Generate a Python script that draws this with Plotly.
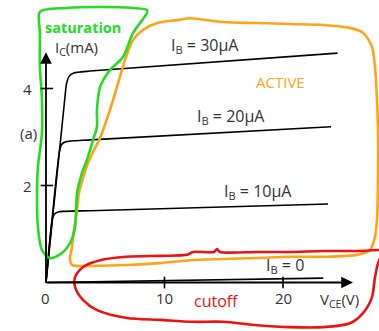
import plotly.graph_objects as go

# Collector characteristics, I_C (mA) against V_CE (V), one curve per base current
vce_30 = [0, 1.6, 1.72, 1.95, 2.35, 3.7, 24.6]
ic_30 = [0, 3.82, 4.08, 4.25, 4.32, 4.36, 4.73]
vce_20 = [0, 1.12, 1.3, 1.65, 3.7, 24.05]
ic_20 = [0, 2.68, 2.84, 2.9, 2.94, 3.21]
vce_10 = [0, 0.55, 0.75, 1.1, 3.7, 23.8]
ic_10 = [0, 1.32, 1.42, 1.46, 1.48, 1.62]
vce_0 = [0, 23.4]
ic_0 = [0, 0.09]

# Freehand region outlines (V, mA)
sat_v = [-0.51, 1.77, 4.56, 7.34, 8.52, 8.52, 7.34, 6.50, 5.40, 4.56, 4.30, 4.30, 3.97, 3.46,
         3.04, 2.62, 2.45, 2.03, 1.35, 0.34, -0.34, -0.68, -0.76, -0.68, -0.34, -0.34, -0.51,
         -0.51, -0.51]
sat_i = [5.58, 5.66, 5.68, 5.66, 5.62, 5.56, 5.14, 4.65, 4.38, 4.03, 3.56, 3.21, 2.94, 2.53,
         2.26, 1.84, 1.14, 0.81, 0.61, 0.50, 0.67, 1.14, 1.70, 2.38, 3.08, 3.77, 4.44,
         5.14, 5.58]
act_v = [2.03, 2.19, 2.36, 2.62, 2.78, 3.12, 3.54, 4.05, 4.56, 5.40, 6.08, 6.67, 7.34, 8.19,
         9.37, 11.05, 12.15, 14.94, 17.81, 20.59, 23.38, 25.65, 26.75, 27.51, 27.76, 27.93,
         28.02, 28.02, 27.93, 27.76, 27.34, 26.24, 23.38, 20.59, 17.81, 14.94, 12.15, 9.62,
         6.84, 3.97, 2.87, 2.19, 2.03]
act_i = [0.505, 0.73, 1.08, 1.49, 1.84, 2.15, 2.46, 2.73, 2.98, 3.56, 4.11, 4.59, 5.00, 5.21,
         5.35, 5.41, 5.45, 5.37, 5.35, 5.33, 5.31, 5.25, 5.15, 4.86, 4.44, 3.76,
         3.08, 2.32, 1.29, 0.94, 0.67, 0.57, 0.53, 0.53, 0.505, 0.485, 0.46, 0.40,
         0.36, 0.34, 0.34, 0.36, 0.505]
cut_v = [28.10, 26.24, 23.38, 20.59, 17.81, 14.68, 14.43, 14.18, 12.41, 11.90, 9.62, 6.84,
         4.56, 3.12, 2.45, 2.45, 3.12, 4.30, 6.84, 9.62, 12.41, 14.94, 17.81, 20.59, 23.38,
         25.65, 26.75, 27.51, 27.76, 28.02, 28.19]
cut_i = [0.67, 0.65, 0.65, 0.63, 0.63, 0.63, 0.69, 0.63, 0.63, 0.57, 0.55, 0.53,
         0.46, 0.32, 0.11, -0.09, -0.36, -0.57, -0.73, -0.77, -0.81, -0.81, -0.88, -0.92, -0.92,
         -0.84, -0.63, -0.30, 0.11, 0.40, 0.505]

x_ticks = [10, 20]
y_ticks = [2, 4]
x_tip = 25.9
y_tip = 4.75

INK = "#333333"
FONT = "Open Sans"
GREEN = "#22dd22"
ORANGE = "#ffa31a"
RED = "#ee1111"

fig = go.Figure()

for v, i in [(vce_30, ic_30), (vce_20, ic_20), (vce_10, ic_10), (vce_0, ic_0)]:
    fig.add_trace(go.Scatter(x=v, y=i, mode="lines", line=dict(color="black", width=1.6, shape="spline", smoothing=0.6),
                             hoverinfo="skip", showlegend=False))

for v, i, c in [(act_v, act_i, ORANGE), (cut_v, cut_i, RED), (sat_v, sat_i, GREEN)]:
    fig.add_trace(go.Scatter(x=v, y=i, mode="lines", line=dict(color=c, width=2.6, shape="spline", smoothing=0.8),
                             hoverinfo="skip", showlegend=False))

# Axes drawn as arrows from the origin
ann = []
ann.append(dict(x=x_tip, y=0, ax=0, ay=0, xref="x", yref="y", axref="x", ayref="y", text="",
                showarrow=True, arrowhead=2, arrowsize=1.3, arrowwidth=1.8, arrowcolor="black"))
ann.append(dict(x=0, y=y_tip, ax=0, ay=0, xref="x", yref="y", axref="x", ayref="y", text="",
                showarrow=True, arrowhead=2, arrowsize=1.3, arrowwidth=1.8, arrowcolor="black"))

shapes = []
for t in x_ticks:
    shapes.append(dict(type="line", xref="x", yref="y", x0=t, x1=t, y0=-0.12, y1=0.12,
                       line=dict(color="black", width=1.6)))
    ann.append(dict(x=t, y=-0.31, text=str(t), showarrow=False, font=dict(family=FONT, size=15, color=INK)))
for t in y_ticks:
    shapes.append(dict(type="line", xref="x", yref="y", x0=-0.45, x1=0.6, y0=t, y1=t,
                       line=dict(color="black", width=1.6)))
    ann.append(dict(x=-1.6, y=t, text=str(t), showarrow=False, font=dict(family=FONT, size=15, color=INK)))
ann.append(dict(x=0, y=-0.31, text="0", showarrow=False, font=dict(family=FONT, size=15, color=INK)))

texts = [
    (24.75, -0.36, "V<sub>CE</sub>(V)", INK, 15),
    (2.6, 4.83, "I<sub>C</sub>(mA)", INK, 15),
    (-1.5, 3.08, "(a)", INK, 15),
    (13.4, 4.88, "I<sub>B</sub> = 30μA", INK, 16),
    (15.6, 3.42, "I<sub>B</sub> = 20μA", INK, 16),
    (17.9, 1.88, "I<sub>B</sub> = 10μA", INK, 16),
    (20.2, 0.35, "I<sub>B</sub> = 0", INK, 16),
    (19.8, 4.13, "ACTIVE", ORANGE, 15),
    (3.15, 5.26, "<b>saturation</b>", GREEN, 14.5),
    (14.4, -0.39, "cutoff", RED, 16),
]
for x, y, t, c, s in texts:
    ann.append(dict(x=x, y=y, text=t, showarrow=False, font=dict(family=FONT, size=s, color=c)))

fig.update_layout(
    width=379, height=331, margin=dict(l=0, r=0, t=0, b=0),
    paper_bgcolor="white", plot_bgcolor="white",
    xaxis=dict(range=[-3.88, 28.10], visible=False, fixedrange=True),
    yaxis=dict(range=[-1.0, 5.825], visible=False, fixedrange=True),
    annotations=ann, shapes=shapes, showlegend=False,
)

fig.write_html("out.html")
